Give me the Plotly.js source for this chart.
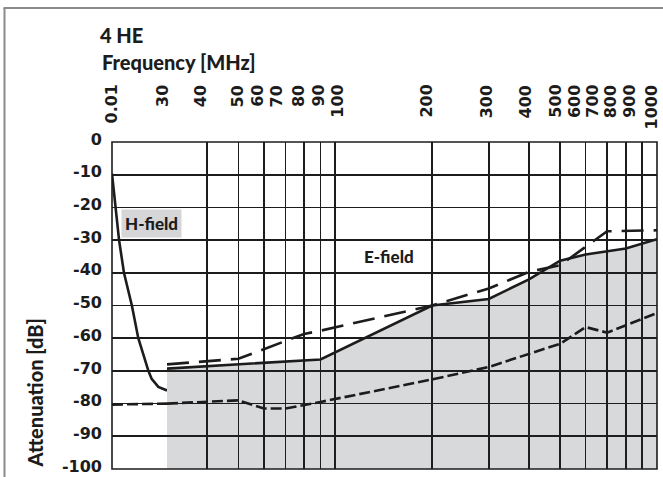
<!DOCTYPE html>
<html><head><meta charset="utf-8">
<script src="https://cdn.plot.ly/plotly-3.0.1.min.js"></script>
<style>html,body{margin:0;padding:0;background:#fff}#chart{width:663px;height:477px}</style>
</head><body><div id="chart"></div>
<script>
// ---- data ----
// H-field region, 0.01 – 30 MHz
const hFreq = [0.01, 0.017, 0.028, 0.057, 0.18, 0.46, 2, 3.2, 8.5, 30];
const hAtten = [-9.7, -20, -30, -40, -50, -60, -70, -72.4, -74.9, -76];
const hLowFreq = [0.01, 30];
const hLowAtten = [-80.3, -80];
// E-field region, 30 – 1000 MHz
const eSolidFreq = [30, 90, 200, 300, 400, 500, 600, 800, 1000];
const eSolidAtten = [-69.3, -66.5, -50, -48, -42, -36.3, -34.4, -32.6, -29.7];
const eDashFreq = [30, 50, 80, 90, 200, 300, 400, 500, 700, 800, 1000];
const eDashAtten = [-68, -66.3, -58.7, -57.7, -50, -44.8, -39.7, -37.7, -27.3, -27.2, -27];
const eLowFreq = [30, 50, 60, 70, 90, 200, 300, 500, 600, 700, 1000];
const eLowAtten = [-80, -79, -81.5, -81.5, -79.5, -72.6, -68.8, -61.7, -56.6, -58.3, -52.3];
// ticks
const mainTicks = [30, 40, 50, 60, 70, 80, 90, 100, 200, 300, 400, 500, 600, 700, 800, 900, 1000];
const mainTickLabels = ['30', '40', '50', '60', '70', '80', '90', '100', '200', '300', '400', '500', '600', '700', '800', '900', '1000'];
const hTicks = [0.01, 30];
const hTickLabels = ['0.01'];
const yTicks = [0, -10, -20, -30, -40, -50, -60, -70, -80, -90, -100];
const yTickLabels = ['0', '-10', '-20', '-30', '-40', '-50', '-60', '-70', '-80', '-90', '-100'];
const yRange = [-100, 0];

// ---- style ----
const TFONT = 'Lato, "Open Sans", sans-serif';
const NFONT = '"DejaVu Sans", Lato, sans-serif';
const INK = '#1c1c1c';
const GRID = '#1c1c1c';
const split = 55 / 545;
const lw = 2.6;
const f = (fam, s, w) => ({family: fam, size: s, color: INK, weight: w || 'bold'});
// horizontal nudges (px) of crowded top labels, as in the reference
const mainLabelShift = [-4, -6, 0, -6, -8, -5, -2, 2, -6, -2, -3, -5, -11, -15, -15, -13, -6];
const hLabelShift = [-1];

const traces = [
  {x: hFreq, y: hAtten, xaxis: 'x2', yaxis: 'y', mode: 'lines',
   line: {color: INK, width: lw}, hoverinfo: 'skip'},
  {x: hLowFreq, y: hLowAtten, xaxis: 'x2', yaxis: 'y', mode: 'lines',
   line: {color: INK, width: lw, dash: '11px,4px'}, hoverinfo: 'skip'},
  // baseline for shaded area (axis minimum)
  {x: [eSolidFreq[0], eSolidFreq[eSolidFreq.length - 1]], y: [yRange[0], yRange[0]],
   xaxis: 'x', yaxis: 'y', mode: 'lines', line: {width: 0, color: 'rgba(0,0,0,0)'}, hoverinfo: 'skip'},
  {x: eSolidFreq, y: eSolidAtten, xaxis: 'x', yaxis: 'y', mode: 'lines', fill: 'tonexty',
   fillcolor: 'rgba(40,45,55,0.18)', line: {color: INK, width: lw}, hoverinfo: 'skip'},
  {x: eDashFreq, y: eDashAtten, xaxis: 'x', yaxis: 'y', mode: 'lines',
   line: {color: INK, width: lw, dash: '22px,10px'}, hoverinfo: 'skip'},
  {x: eLowFreq, y: eLowAtten, xaxis: 'x', yaxis: 'y', mode: 'lines',
   line: {color: INK, width: lw, dash: '11px,4px'}, hoverinfo: 'skip'}
];

const labelY = (469 - 83) / 327;
const annotations = [];
mainTicks.forEach((v, i) => annotations.push({
  xref: 'x', x: Math.log10(v), yref: 'paper', y: labelY, yanchor: 'top', xanchor: 'center',
  xshift: mainLabelShift[i], textangle: -90, text: mainTickLabels[i], showarrow: false, font: f(NFONT, 16)
}));
hTickLabels.forEach((t, i) => annotations.push({
  xref: 'x2', x: Math.log10(hTicks[i]), yref: 'paper', y: labelY, yanchor: 'top', xanchor: 'center',
  xshift: hLabelShift[i], textangle: -90, text: t, showarrow: false, font: f(NFONT, 16)
}));
annotations.push(
  {xref: 'paper', x: (100 - 112) / 545, xanchor: 'left', yref: 'paper', y: (469 - 62) / 327, yanchor: 'middle',
   text: 'Frequency [MHz]', showarrow: false, font: f(TFONT, 20, 900)},
  {xref: 'paper', x: (35 - 112) / 545, xanchor: 'center', yref: 'paper', y: -0.003, yanchor: 'bottom',
   textangle: -90, text: 'Attenuation [dB]', showarrow: false, font: f(TFONT, 20, 900)},
  {xref: 'paper', x: (151 - 112) / 545, xanchor: 'center', yref: 'y', y: -24.9, yanchor: 'middle',
   text: 'H-field', showarrow: false, font: f(TFONT, 17, 900), bgcolor: '#d6d6d8', borderpad: 3},
  {xref: 'x', x: Math.log10(147), xanchor: 'center', yref: 'y', y: -35, yanchor: 'middle',
   text: 'E-field', showarrow: false, font: f(TFONT, 17, 900)}
);

const layout = {
  width: 663, height: 477,
  margin: {l: 112, r: 6, t: 142, b: 8, pad: 0},
  paper_bgcolor: '#fff', plot_bgcolor: '#fff',
  showlegend: false,
  font: f(TFONT, 16),
  title: {text: '4 HE', xref: 'container', x: 100 / 663, xanchor: 'left',
          yref: 'container', y: 1 - 36 / 477, yanchor: 'middle', font: f(TFONT, 20, 900)},
  xaxis: {type: 'log', domain: [split, 1], range: [Math.log10(30), 3], tickvals: mainTicks,
          showticklabels: false, ticks: '', showgrid: true, gridcolor: GRID, gridwidth: 1.6,
          zeroline: false, showline: false, side: 'top', anchor: 'y'},
  xaxis2: {type: 'log', domain: [0, split], range: [-2, Math.log10(30)], tickvals: hTicks,
           showticklabels: false, ticks: '', showgrid: true, gridcolor: GRID, gridwidth: 1.6,
           zeroline: false, showline: false, side: 'top', anchor: 'y'},
  yaxis: {range: yRange, tickvals: yTicks, ticktext: yTickLabels, showgrid: true, gridcolor: GRID,
          gridwidth: 1.6, zeroline: false, ticks: '', anchor: 'x2', ticklabelstandoff: 9,
          ticklabelshift: -3, ticklabeloverflow: 'allow', tickfont: f(NFONT, 16), showline: false},
  shapes: [
    {type: 'rect', xref: 'paper', yref: 'paper', x0: 0, x1: 1, y0: 0, y1: 1,
     line: {color: INK, width: 1.6}, layer: 'above'},
    {type: 'line', xref: 'paper', yref: 'paper', x0: (4.5 - 112) / 545, x1: (4.5 - 112) / 545,
     y0: (469 - 8) / 327, y1: (469 - 480) / 327, line: {color: '#8a8a8a', width: 2}},
    {type: 'line', xref: 'paper', yref: 'paper', x0: (3.5 - 112) / 545, x1: (670 - 112) / 545,
     y0: (469 - 8) / 327, y1: (469 - 8) / 327, line: {color: '#8a8a8a', width: 2}}
  ],
  annotations: annotations
};

Plotly.newPlot('chart', traces, layout, {staticPlot: true, displayModeBar: false});
</script>
</body></html>
